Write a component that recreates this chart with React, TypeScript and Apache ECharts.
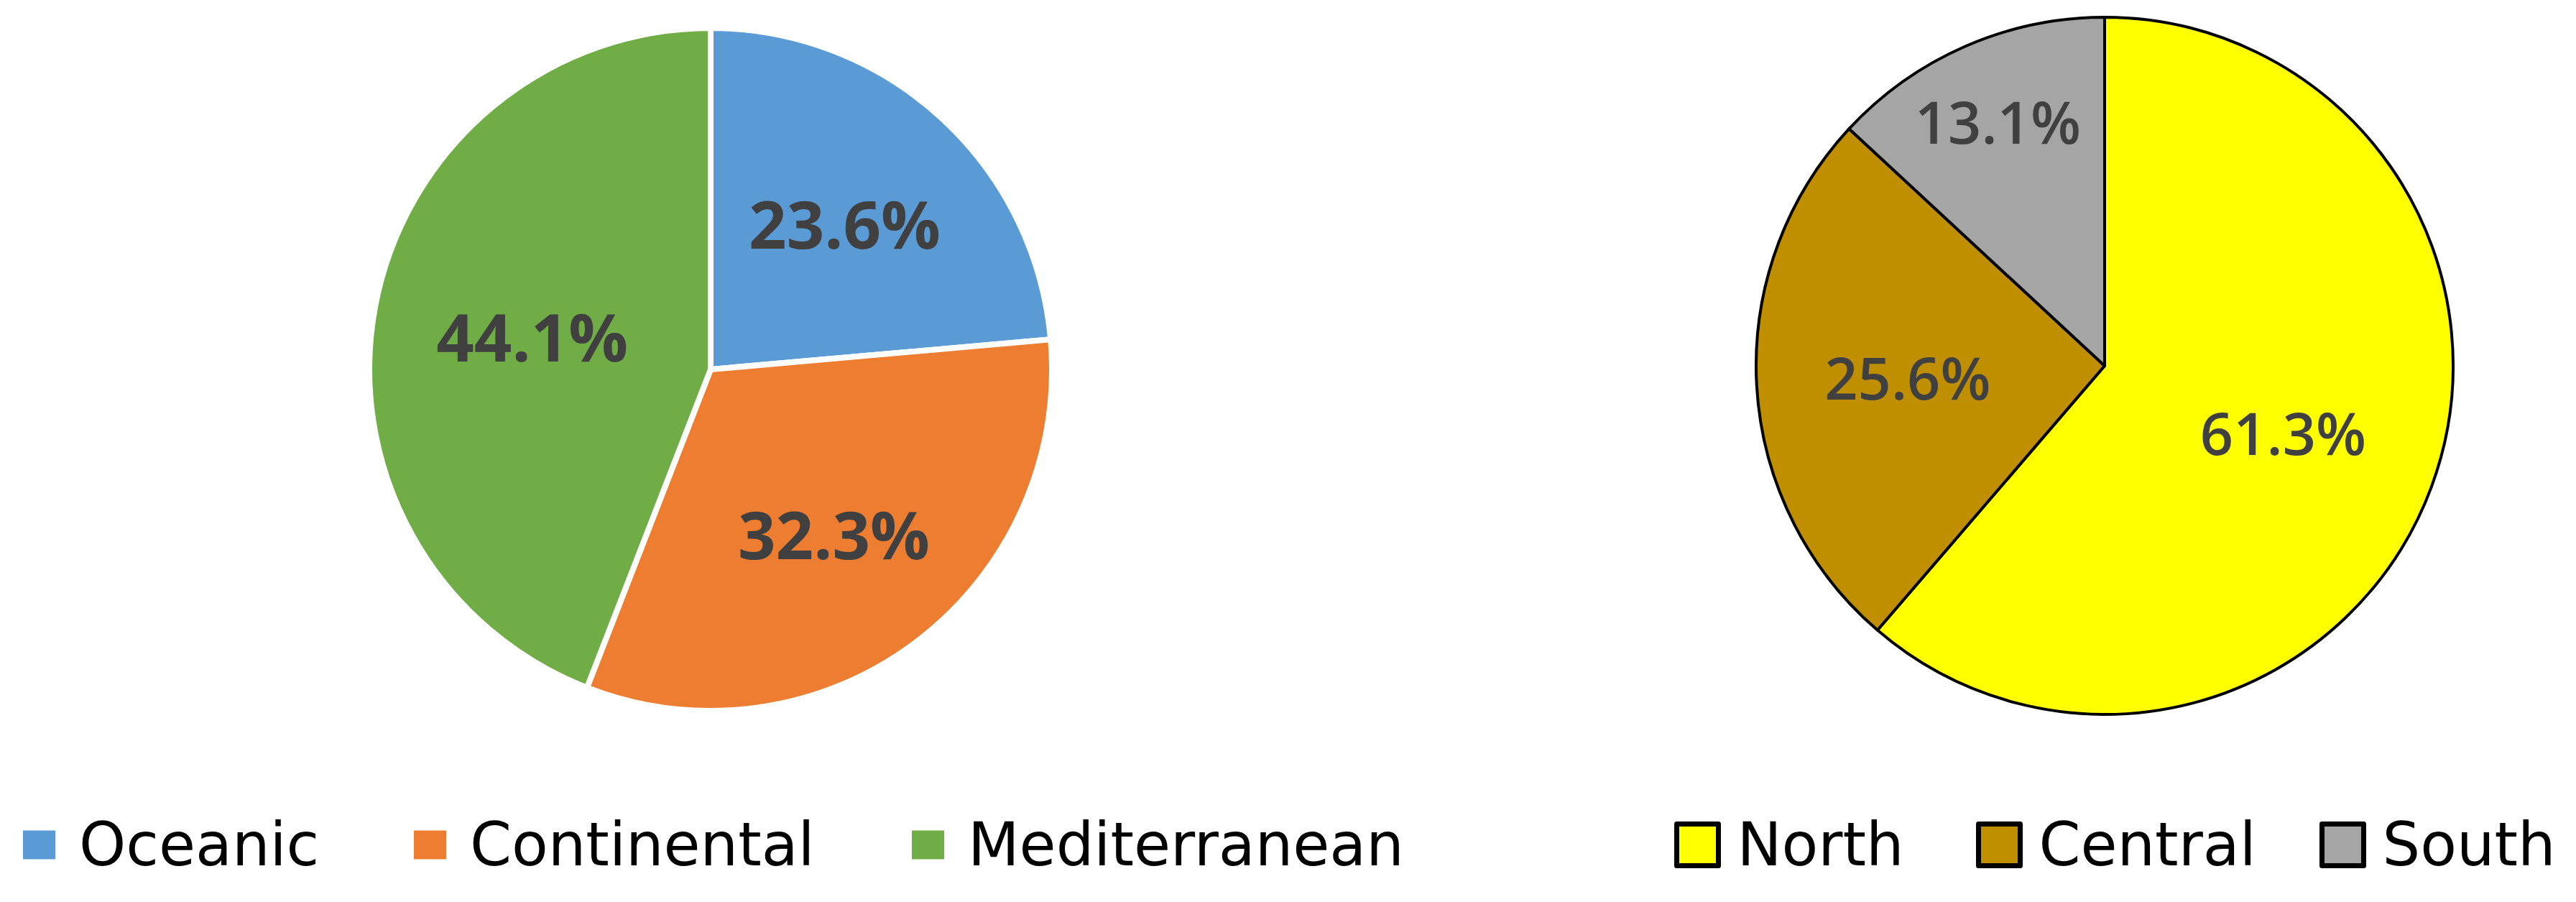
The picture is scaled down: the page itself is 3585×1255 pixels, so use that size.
import React, { useEffect, useRef } from 'react';
import * as echarts from 'echarts';

// ---- data ----
const climateNames = ['Oceanic', 'Continental', 'Mediterranean'];
const climateValues = [23.6, 32.3, 44.1];
const regionNames = ['North', 'Central', 'South'];
const regionValues = [61.3, 25.6, 13.1];

// ---- styles ----
const climateColors = ['#5B9BD5', '#ED7D31', '#70AD47'];
const regionColors = ['#FFFF00', '#BF8F00', '#A5A5A5'];
// radial position of each value label, as a fraction of the radius
const climateLabelPos = [0.58, 0.6, 0.53];
const regionLabelPos = [0.54, 0.56, 0.76];

const W = 3585;
const H = 1255;

const leftCenter = [989, 514];
const leftRadius = 475;
const rightCenter = [2929, 509];
const rightRadius = 485;

const leftLegendX = [32, 576, 1269];
const rightLegendX = [2330, 2750, 3228];

function fmt(p: any) {
  return Number(p.value).toFixed(1) + '%';
}

function labelOverlays(
  names: string[],
  values: number[],
  pos: number[],
  center: number[],
  R: number,
  labelStyle: any
) {
  return names.map((_, i) => ({
    type: 'pie',
    silent: true,
    z: 5,
    center,
    radius: [(2 * pos[i] - 1) * R, R],
    startAngle: 90,
    clockwise: true,
    data: names.map((n, j) => ({
      name: n,
      value: values[j],
      label: { show: j === i },
    })),
    itemStyle: { color: 'rgba(0,0,0,0)', borderWidth: 0 },
    label: { show: true, position: 'inside', formatter: fmt, ...labelStyle },
    labelLine: { show: false },
    emphasis: { disabled: true },
    tooltip: { show: false },
  }));
}

export default function App() {
  const ref = useRef<HTMLDivElement>(null);

  useEffect(() => {
    if (!ref.current) return;
    const chart = echarts.init(ref.current, null, { renderer: 'svg', width: W, height: H });

    const leftLabelStyle = {
      color: '#404040',
      fontFamily: 'Open Sans',
      fontWeight: 'bold',
      fontSize: 92,
    };
    const rightLabelStyle = {
      color: '#404040',
      fontFamily: 'Open Sans',
      fontWeight: 600,
      fontSize: 81,
    };

    const legendText = {
      color: '#000000',
      fontFamily: 'DejaVu Sans',
      fontSize: 83,
    };

    const legends: any[] = [];
    climateNames.forEach((n, i) => {
      legends.push({
        data: [{ name: n, icon: 'rect' }],
        left: leftLegendX[i],
        top: 1134,
        padding: 0,
        itemWidth: 45,
        itemHeight: 40,
        itemStyle: { borderWidth: 0 },
        selectedMode: false,
        textStyle: { ...legendText, padding: [0, 0, 0, 28] },
      });
    });
    regionNames.forEach((n, i) => {
      legends.push({
        data: [{ name: n, icon: 'rect' }],
        left: rightLegendX[i],
        top: 1134,
        padding: 0,
        itemWidth: 58,
        itemHeight: 58,
        itemStyle: { borderColor: '#000000', borderWidth: 7 },
        selectedMode: false,
        textStyle: { ...legendText, padding: [0, 0, 0, 21] },
      });
    });

    chart.setOption({
      animation: false,
      backgroundColor: '#ffffff',
      legend: legends,
      series: [
        {
          type: 'pie',
          name: 'Climate',
          center: leftCenter,
          radius: leftRadius,
          startAngle: 90,
          clockwise: true,
          silent: true,
          data: climateNames.map((n, i) => ({
            name: n,
            value: climateValues[i],
            itemStyle: { color: climateColors[i] },
          })),
          itemStyle: { borderColor: '#ffffff', borderWidth: 8 },
          label: { show: false },
          labelLine: { show: false },
          emphasis: { disabled: true },
        },
        {
          type: 'pie',
          name: 'Region',
          center: rightCenter,
          radius: rightRadius,
          startAngle: 90,
          clockwise: true,
          silent: true,
          data: regionNames.map((n, i) => ({
            name: n,
            value: regionValues[i],
            itemStyle: { color: regionColors[i] },
          })),
          itemStyle: { borderColor: '#000000', borderWidth: 4 },
          label: { show: false },
          labelLine: { show: false },
          emphasis: { disabled: true },
        },
        ...labelOverlays(climateNames, climateValues, climateLabelPos, leftCenter, leftRadius - 4, leftLabelStyle),
        ...labelOverlays(regionNames, regionValues, regionLabelPos, rightCenter, rightRadius, rightLabelStyle),
      ],
    });

    return () => {
      chart.dispose();
    };
  }, []);

  return (
    <div
      ref={ref}
      style={{ position: 'fixed', left: 0, top: 0, width: W, height: H, background: '#ffffff' }}
    />
  );
}
